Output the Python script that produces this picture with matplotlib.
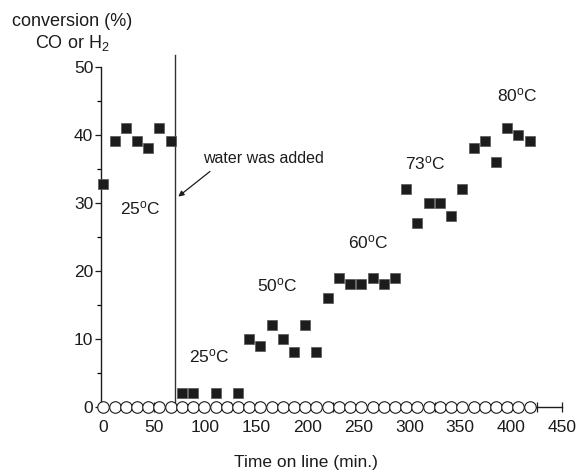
"""Conversion of CO / H2 vs time on line, with water addition marker."""
import matplotlib
matplotlib.use("Agg")
import matplotlib.pyplot as plt
from matplotlib.ticker import MultipleLocator

plt.rcParams.update({
    "font.family": ["Liberation Sans", "DejaVu Sans"],
    "font.size": 12.5,
    "mathtext.fontset": "custom",
    "mathtext.rm": "Liberation Sans",
    "mathtext.it": "Liberation Sans:italic",
    "figure.facecolor": "white", "savefig.facecolor": "white",
})

DARK = "#1c1c1c"

# ── data ─────────────────────────────────────────────────────
time_co = [0, 11, 22, 33, 44, 55, 66, 77, 88, 110, 132, 143, 154, 165, 176,
           187, 198, 209, 220, 231, 242, 253, 264, 275, 286, 297, 308, 319,
           330, 341, 352, 363, 374, 385, 396, 407, 418]
conv_co = [32.7, 39, 41, 39, 38, 41, 39, 2, 2, 2, 2, 10, 9, 12, 10,
           8, 12, 8, 16, 19, 18, 18, 19, 18, 19, 32, 27, 30,
           30, 28, 32, 38, 39, 36, 41, 40, 39]

time_h2 = [0, 11, 22, 33, 44, 55, 66, 77, 88, 99, 110, 121, 132, 143, 154,
           165, 176, 187, 198, 209, 220, 231, 242, 253, 264, 275, 286, 297,
           308, 319, 330, 341, 352, 363, 374, 385, 396, 407, 418]
conv_h2 = [0] * len(time_h2)

water_time = 70.3

temp_labels = ["25$^{\\mathrm{o}}$C", "25$^{\\mathrm{o}}$C", "50$^{\\mathrm{o}}$C",
               "60$^{\\mathrm{o}}$C", "73$^{\\mathrm{o}}$C", "80$^{\\mathrm{o}}$C"]
temp_x = [36, 104, 171, 260, 316, 406]
temp_y = [29.2, 7.4, 17.9, 24.2, 35.8, 45.8]

# ── figure ───────────────────────────────────────────────────
fig = plt.figure(figsize=(5.83, 4.71), dpi=100)
ax = fig.add_axes([0.1732, 0.1365, 0.7913, 0.7219])
ax.set_xlim(-2.3, 450)
ax.set_ylim(0, 50)

for s in ("top", "right"):
    ax.spines[s].set_visible(False)
for s in ("left", "bottom"):
    ax.spines[s].set_linewidth(1.0)
    ax.spines[s].set_color(DARK)

ax.xaxis.set_major_locator(MultipleLocator(50))
ax.xaxis.set_minor_locator(MultipleLocator(25))
ax.yaxis.set_major_locator(MultipleLocator(10))
ax.yaxis.set_minor_locator(MultipleLocator(5))
ax.tick_params(axis="x", which="both", direction="inout", length=7, width=0.9,
               pad=6, colors=DARK)
ax.tick_params(axis="y", which="major", direction="out", length=4.5, width=0.9,
               pad=1, colors=DARK)
ax.tick_params(axis="y", which="minor", direction="out", length=3, width=0.9)
ax.tick_params(labelsize=12.5)

# water addition line
ax.plot([water_time, water_time], [0, 51.7], color="#333333", lw=1.0,
        clip_on=False, zorder=2)

ax.plot(time_h2, conv_h2, "o", ms=8.3, mfc="white", mec=DARK, mew=0.8,
        clip_on=False, zorder=4)
ax.plot(time_co, conv_co, "s", ms=7.2, mfc=DARK, mec="#555555", mew=0.5,
        clip_on=False, zorder=5)

for txt, x, y in zip(temp_labels, temp_x, temp_y):
    ax.text(x, y, txt, ha="center", va="center", fontsize=12.5, color=DARK)

ax.annotate("", xy=(73.5, 30.9), xytext=(104.6, 34.6),
            arrowprops=dict(arrowstyle="-|>", color=DARK, lw=0.9,
                            mutation_scale=8, shrinkA=0, shrinkB=0))
ax.text(157, 36.5, "water was added", ha="center", va="center",
        fontsize=11.5, color=DARK)

# axis titles
fig.text(72 / 583, 1 - 22 / 471, "conversion (%)", ha="center", va="center",
         fontsize=13, color=DARK)
fig.text(72 / 583, 1 - 43 / 471, "CO or H$_2$", ha="center", va="center",
         fontsize=13, color=DARK)
fig.text(306 / 583, 1 - 463 / 471, "Time on line (min.)", ha="center",
         va="center", fontsize=12.5, color=DARK)

fig.savefig("out.png", dpi=100)
plt.close(fig)
